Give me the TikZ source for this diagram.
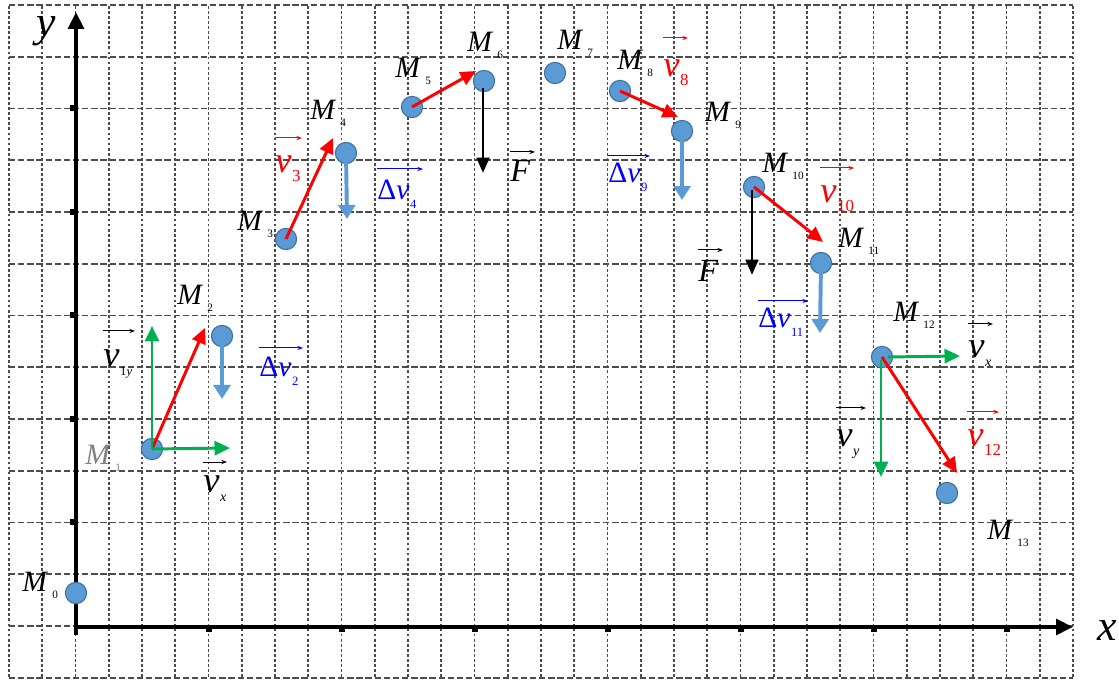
\documentclass[tikz,border=0pt]{standalone}
\usepackage{fontspec}
\setmainfont{Liberation Serif}
\usetikzlibrary{arrows.meta}
\definecolor{ptfill}{RGB}{91,155,213}
\definecolor{ptedge}{RGB}{65,113,156}
\definecolor{vgreen}{RGB}{0,176,80}
\definecolor{dvblue}{RGB}{0,0,255}
\newcommand{\Mpt}[1]{\textit{M}\kern3pt\raisebox{-4.5pt}{\fontsize{8}{8}\selectfont #1}}
\newcommand{\vsub}[3][11]{#2\kern0.5pt\raisebox{-6pt}{\fontsize{#1}{#1}\selectfont #3}}
\newcommand{\vecmark}[4][black]{\draw[vecbar,#1] ([shift={(0,#3)}]#2.base west) -- ++(#4,0);}
\tikzset{
  gridv/.style={draw=black!70, line width=1.4pt, dash pattern=on 2pt off 1.6pt},
  gridh/.style={draw=black!70, line width=1.4pt, dash pattern=on 4.5pt off 2pt},
  axis/.style={line width=2.8pt, -{Triangle[length=12pt,width=11pt]}},
  mpoint/.style={circle, draw=ptedge, fill=ptfill, line width=0.8pt, minimum size=0.53cm, inner sep=0pt},
  vred/.style={red, line width=2.1pt, -{Triangle[length=11pt,width=10pt]}},
  vgr/.style={vgreen, line width=2.1pt, -{Triangle[length=11pt,width=10pt]}},
  dv/.style={ptfill, line width=2.8pt, -{Triangle[length=10pt,width=12pt]}},
  force/.style={black, line width=2.1pt, -{Triangle[length=11pt,width=9pt]}},
  vecbar/.style={line width=0.7pt, -{Stealth[length=4pt,width=3pt]}},
  mlab/.style={anchor=base west, inner sep=0pt, font=\fontsize{21}{21}\selectfont},
  vlab/.style={anchor=base west, inner sep=0pt, font=\fontsize{26}{26}\selectfont},
  dlab/.style={anchor=base west, inner sep=0pt, dvblue, font=\fontsize{21}{21}\selectfont},
  flab/.style={anchor=base west, inner sep=0pt, font=\fontsize{23}{23}\selectfont},
  axlab/.style={anchor=base west, inner sep=0pt, font=\fontsize{31}{31}\selectfont},
}
\begin{document}
\begin{tikzpicture}[x=0.025cm, y=0.025cm]
  \useasboundingbox (0,0) rectangle (1119,682);
  % grid
  \foreach \i in {0,...,32} \draw[gridv] ({9+33.25*\i},5) -- ({9+33.25*\i},677);
  \foreach \j in {0,...,13} \draw[gridh] (9,{677-51.75*\j}) -- (1073,{677-51.75*\j});
  % axes
  \coordinate (O) at (76,55); \coordinate (ybot) at (76,47);
  \coordinate (ytop) at (76,670); \coordinate (xend) at (1073,55);
  \draw[axis] (ybot) -- (ytop);
  \draw[axis] (O) -- (xend);
  \foreach \i in {6,10,...,30} \fill ({9+33.25*\i-3},50) rectangle ++(6,6);
  \foreach \j in {2,4,...,10} \fill (70,{677-51.75*\j-3}) rectangle ++(7,6);
  \node[axlab] (xlab) at (1097,41) {\textit{x}};
  \node[axlab] (ylab) at (36,645) {\textit{y}};
  % points
  \node[mpoint] (M0) at (76,89) {};   \node[mpoint] (M1) at (152,233) {};
  \node[mpoint] (M2) at (222,346) {};  \node[mpoint] (M3) at (286,443) {};
  \node[mpoint] (M4) at (346,529) {};  \node[mpoint] (M5) at (412,575) {};
  \node[mpoint] (M6) at (484,601) {};  \node[mpoint] (M7) at (555,609) {};
  \node[mpoint] (M8) at (620,591) {};  \node[mpoint] (M9) at (682,551) {};
  \node[mpoint] (M10) at (754,495) {}; \node[mpoint] (M11) at (821,419) {};
  \node[mpoint] (M12) at (882,325) {}; \node[mpoint] (M13) at (947,189) {};
  \node[mlab] (l0) at (22,90) {\Mpt{0}};
  \node[mlab, black!50] (l1) at (85,217) {\Mpt{1}};
  \node[mlab] (l2) at (177,377) {\Mpt{2}};
  \node[mlab] (l3) at (237,451) {\Mpt{3}};
  \node[mlab] (l4) at (310,562) {\Mpt{4}};
  \node[mlab] (l5) at (395,604) {\Mpt{5}};
  \node[mlab] (l6) at (467,630) {\Mpt{6}};
  \node[mlab] (l7) at (557,632) {\Mpt{7}};
  \node[mlab] (l8) at (617,612) {\Mpt{8}};
  \node[mlab] (l9) at (705,560) {\Mpt{9}};
  \node[mlab] (l10) at (762,509) {\Mpt{10}};
  \node[mlab] (l11) at (838,434) {\Mpt{11}};
  \node[mlab] (l12) at (893,360) {\Mpt{12}};
  \node[mlab] (l13) at (987,142) {\Mpt{13}};
  % velocities
  \coordinate (r1) at (205,354); \coordinate (r3) at (333,544);
  \coordinate (r5) at (476,611); \coordinate (r8) at (678,565);
  \coordinate (r10) at (823,440); \coordinate (r12) at (957,209);
  \draw[vred] (M1.center) -- (r1); \draw[vred] (M3.center) -- (r3);
  \draw[vred] (M5.center) -- (r5); \draw[vred] (M8.center) -- (r8);
  \draw[vred] (M10.center) -- (r10); \draw[vred] (M12.center) -- (r12);
  \coordinate (g1y) at (152,356); \coordinate (g1x) at (230,234);
  \coordinate (g12x) at (960,326); \coordinate (g12y) at (881,205);
  \draw[vgr] (M1.center) -- (g1y); \draw[vgr] (M1.center) -- (g1x);
  \draw[vgr] ([xshift=4]M12.center) -- (g12x); \draw[vgr] ([shift={(-1,-3)}]M12.center) -- (g12y);
  % changes and force
  \coordinate (b2) at (222,283); \coordinate (b4) at (347,463);
  \coordinate (b9) at (682,482); \coordinate (b11) at (820,349);
  \draw[dv] (M2.center) -- (b2); \draw[dv] (M4.center) -- (b4);
  \draw[dv] (M9.center) -- (b9); \draw[dv] (M11.center) -- (b11);
  \coordinate (f6) at (483,509); \coordinate (f10) at (752,407);
  \draw[force] ([shift={(-1,-7)}]M6.center) -- (f6); \draw[force] ([shift={(-2,-3)}]M10.center) -- (f10);
  % vector labels
  \node[vlab] (vy1) at (103,315) {\vsub[9]{\textit{v}}{1\textit{y}}};
  \node[vlab] (vx1) at (203,189) {\vsub[10]{\textit{v}}{\textit{x}}};
  \node[dlab] (dv2) at (259,305) {\vsub[9]{Δ\textit{v}}{2}};
  \node[vlab, red] (v3) at (275,509) {\vsub[12]{\textit{v}}{3}};
  \node[dlab] (dv4) at (377,482) {\vsub[9]{Δ\textit{v}}{4}};
  \node[flab] (F6) at (510,500) {\textit{F}};
  \node[vlab, red] (v8) at (663,605) {\vsub[12]{\textit{v}}{8}};
  \node[dlab] (dv9) at (608,499) {\vsub[9]{Δ\textit{v}}{9}};
  \node[vlab, red] (v10) at (820,479) {\vsub[12]{\textit{v}}{10}};
  \node[flab] (F10) at (698,400) {\textit{F}};
  \node[dlab] (dv11) at (758,354) {\vsub[9]{Δ\textit{v}}{11}};
  \node[vlab] (vx12) at (968,324) {\vsub[10]{\textit{v}}{\textit{x}}};
  \node[vlab] (vy12) at (836,235) {\vsub[10]{\textit{v}}{\textit{y}}};
  \node[vlab, red] (v12) at (967,235) {\vsub[12]{\textit{v}}{12}};
  \vecmark{vy1}{36}{32} \vecmark{vx1}{31}{24} \vecmark[dvblue]{dv2}{29}{44}
  \vecmark[red]{v3}{35}{27} \vecmark[dvblue]{dv4}{31}{46} \vecmark{F6}{30}{25}
  \vecmark[red]{v8}{39}{25} \vecmark[dvblue]{dv9}{27}{42} \vecmark[red]{v10}{35}{34}
  \vecmark{F10}{32}{25} \vecmark[dvblue]{dv11}{27}{50} \vecmark{vx12}{34}{25}
  \vecmark{vy12}{39}{30} \vecmark[red]{v12}{35}{32}
\end{tikzpicture}
\end{document}
